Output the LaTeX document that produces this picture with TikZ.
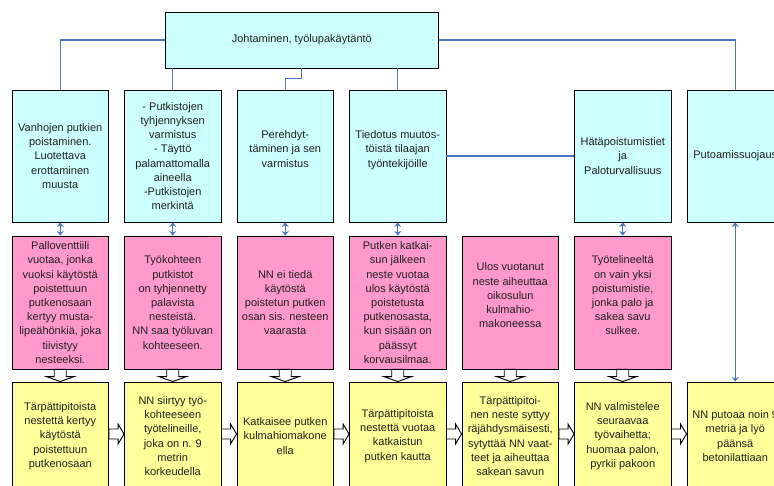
\documentclass[tikz,border=0pt]{standalone}
\usepackage{fontspec}
\setmainfont{Liberation Sans}
\usetikzlibrary{calc,arrows.meta}
\definecolor{cyanfill}{RGB}{204,255,255}
\definecolor{pinkfill}{RGB}{255,153,204}
\definecolor{yellowfill}{RGB}{255,255,153}
\definecolor{connblue}{RGB}{72,118,196}
\newcommand\myvarrow[2]{\draw[blk] ($(#1.south)+(-6,0)$) -- ($(#2.north)+(-6,-5)$) -- ($(#2.north)+(-14,-5)$) -- (#2.north) -- ($(#2.north)+(14,-5)$) -- ($(#2.north)+(6,-5)$) -- ($(#1.south)+(6,0)$) -- cycle;}
\newcommand\myharrow[2]{\draw[blk] ($(#1.east)+(0,-7)$) -- ($(#2.west)+(-6,-7)$) -- ($(#2.west)+(-6,-12)$) -- ($(#2.west)+(0,-2)$) -- ($(#2.west)+(-6,8)$) -- ($(#2.west)+(-6,3)$) -- ($(#1.east)+(0,3)$) -- cycle;}
\begin{document}
\begin{tikzpicture}[x=1pt,y=-1pt,
  box/.style={draw=black, line width=0.9pt, minimum width=96.5pt, align=center, inner sep=1pt, text=black!88, font=\fontsize{11}{14.2}\selectfont},
  cy/.style={box, fill=cyanfill, minimum height=132pt},
  pk/.style={box, fill=pinkfill, minimum height=133pt},
  yl/.style={box, fill=yellowfill, minimum height=108pt},
  conn/.style={draw=connblue, line width=1.1pt},
  dbl/.style={draw=connblue, line width=1.3pt, {Stealth[length=4.5pt,width=7pt]}-{Stealth[length=4.5pt,width=7pt]}},
  blk/.style={draw=black, line width=0.9pt, fill=white, line join=miter}]
\useasboundingbox (0,0) rectangle (774,486);
\clip (0,0) rectangle (774,486);
% top
\node[box, fill=cyanfill, minimum width=273.7pt, minimum height=56pt] (top) at (301.8,40) {Johtaminen, työlupakäytäntö};
% row 1
\node[cy] (a1) at (60.25,156) {Vanhojen putkien\\poistaminen.\\Luotettava\\erottaminen\\muusta};
\node[cy] (a2) at (172.75,156) {- Putkistojen\\tyhjennyksen\\varmistus\\- Täyttö\\palamattomalla\\aineella\\-Putkistojen\\merkintä};
\node[cy] (a3) at (285.25,156) {Perehdyt-\\täminen ja sen\\varmistus\\~};
\node[cy] (a4) at (397.75,156) {Tiedotus muutos-\\töistä tilaajan\\työntekijöille\\~};
\node[cy] (a6) at (622.75,156) {Hätäpoistumistiet\\ja\\Paloturvallisuus};
\node[cy] (a7) at (735.25,156) {Putoamissuojaus};
% row 2
\node[pk] (b1) at (60.25,302.5) {Palloventtiili\\vuotaa, jonka\\vuoksi käytöstä\\poistettuun\\putkenosaan\\kertyy musta-\\lipeähönkiä, joka\\tiivistyy\\nesteeksi.};
\node[pk] (b2) at (172.75,302.5) {Työkohteen\\putkistot\\on tyhjennetty\\palavista\\nesteistä.\\NN saa työluvan\\kohteeseen.};
\node[pk] (b3) at (285.25,302.5) {NN ei tiedä\\käytöstä\\poistetun putken\\osan sis. nesteen\\vaarasta};
\node[pk] (b4) at (397.75,302.5) {Putken katkai-\\sun jälkeen\\neste vuotaa\\ulos käytöstä\\poistetusta\\putkenosasta,\\kun sisään on\\päässyt\\korvausilmaa.};
\node[pk] (b5) at (510.25,302.5) {Ulos vuotanut\\neste aiheuttaa\\oikosulun\\kulmahio-\\makoneessa\\~};
\node[pk] (b6) at (622.75,302.5) {Työtelineeltä\\on vain yksi\\poistumistie,\\jonka palo ja\\sakea savu\\sulkee.\\~};
% row 3
\node[yl] (c1) at (60.25,436) {Tärpättipitoista\\nestettä kertyy\\käytöstä\\poistettuun\\putkenosaan};
\node[yl] (c2) at (172.75,436) {NN siirtyy työ-\\kohteeseen\\työtelineille,\\joka on n. 9\\metrin\\korkeudella};
\node[yl] (c3) at (285.25,436) {Katkaisee putken\\kulmahiomakone\\ella};
\node[yl] (c4) at (397.75,436) {Tärpättipitoista\\nestettä vuotaa\\katkaistun\\putken kautta};
\node[yl] (c5) at (510.25,436) {Tärpättipitoi-\\nen neste syttyy\\räjähdysmäisesti,\\sytyttää NN vaat-\\teet ja aiheuttaa\\sakean savun};
\node[yl] (c6) at (622.75,436) {NN valmistelee\\seuraavaa\\työvaihetta;\\huomaa palon,\\pyrkii pakoon};
\node[yl] (c7) at (735.25,436) {NN putoaa noin 9\\metriä ja lyö\\päänsä\\betonilattiaan};
% connectors from top
\draw[conn] (top.west) -| (a1.north);
\draw[conn] (top.south -| a2.north) -- (a2.north);
\draw[conn] (top.south) -- ++(0,10) -| (a3.north);
\draw[conn] (top.south -| a4.north) -- (a4.north);
\draw[conn] (top.east) -| (a7.north);
\draw[conn] (a4.east) -- (a6.west);
% double arrows
\draw[dbl] (a1.south) -- (b1.north);
\draw[dbl] (a2.south) -- (b2.north);
\draw[dbl] (a3.south) -- (b3.north);
\draw[dbl] (a4.south) -- (b4.north);
\draw[dbl] (a6.south) -- (b6.north);
\draw[dbl] (a7.south) -- (c7.north);
% block arrows
\myvarrow{b1}{c1}
\myvarrow{b2}{c2}
\myvarrow{b3}{c3}
\myvarrow{b4}{c4}
\myvarrow{b5}{c5}
\myvarrow{b6}{c6}
\myharrow{c1}{c2}
\myharrow{c2}{c3}
\myharrow{c3}{c4}
\myharrow{c4}{c5}
\myharrow{c5}{c6}
\myharrow{c6}{c7}
\end{tikzpicture}
\end{document}
